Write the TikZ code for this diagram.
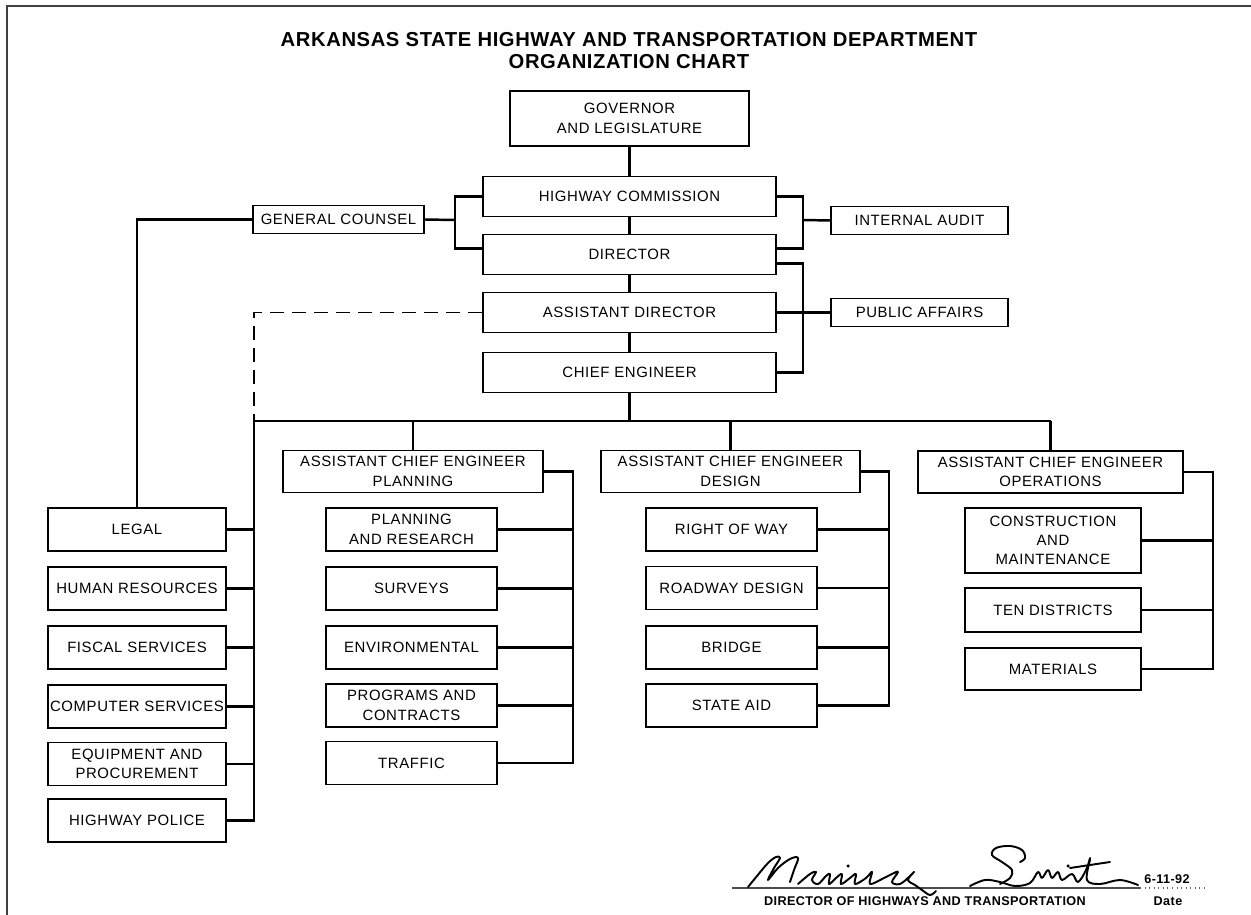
\documentclass[tikz,border=0pt]{standalone}
\usepackage{fontspec}
\setmainfont{Liberation Sans}
\newfontfamily\chartfont{Liberation Sans}[LetterSpace=4]
\newfontfamily\titlefont{Liberation Sans}[LetterSpace=3]
\usetikzlibrary{calc}

\tikzset{
  box/.style={draw, line width=0.8pt, align=center, inner sep=1pt,
    font={\chartfont\fontsize{8.5}{11}\selectfont}},
  mainbox/.style={box, minimum width=5.86cm, minimum height=0.8cm},
  staffbox/.style={box, minimum width=3.54cm, minimum height=0.56cm},
  acebox/.style={box, minimum width=5.2cm, minimum height=0.84cm},
  sidebox/.style={box, minimum width=3.56cm, minimum height=0.86cm},
  subbox/.style={box, minimum width=3.42cm, minimum height=0.86cm},
  link/.style={line width=1.4pt, line join=miter},
  dotlink/.style={line width=0.7pt, dash pattern=on 0.28cm off 0.16cm},
  sig/.style={line width=1.1pt, line cap=round, line join=round},
  signfont/.style={font={\titlefont\bfseries\fontsize{7.2}{8}\selectfont}},
}

\begin{document}
\begin{tikzpicture}[x=0.02cm, y=-0.02cm]
  % page frame
  \useasboundingbox (0,0) rectangle (1251,915);
  \draw[line width=1.3pt, black!75] (7,915) -- (7,6) -- (1251,6);

  % --- title ---
  \node[font={\titlefont\bfseries\fontsize{11.5}{12.5}\selectfont}, align=center] (title) at (629,51)
    {ARKANSAS STATE HIGHWAY AND TRANSPORTATION DEPARTMENT\\ORGANIZATION CHART};

  % --- top of the chain ---
  \node[box, minimum width=4.78cm, minimum height=1.1cm] (gov) at (629.5,118.5) {GOVERNOR\\AND LEGISLATURE};
  \node[mainbox] (hc)  at (629.5,196.5) {HIGHWAY COMMISSION};
  \node[mainbox] (dir) at (629.5,254.5) {DIRECTOR};
  \node[mainbox] (ad)  at (629.5,312.5) {ASSISTANT DIRECTOR};
  \node[mainbox] (ce)  at (629.5,372.5) {CHIEF ENGINEER};

  \node[staffbox, minimum width=3.42cm] (gc) at (338.5,219.5) {GENERAL COUNSEL};
  \node[staffbox] (ia) at (919.5,220.5) {INTERNAL AUDIT};
  \node[staffbox] (pa) at (919.5,312.5) {PUBLIC AFFAIRS};

  % --- assistant chief engineers ---
  \node[acebox] (acepl) at (413,471.5) {ASSISTANT CHIEF ENGINEER\\PLANNING};
  \node[acebox, minimum width=5.18cm] (aced) at (730.5,471.5) {ASSISTANT CHIEF ENGINEER\\DESIGN};
  \node[acebox, minimum width=5.3cm] (aceo) at (1050.5,472) {ASSISTANT CHIEF ENGINEER\\OPERATIONS};

  % --- staff divisions ---
  \node[sidebox] (legal)    at (137,529.5) {LEGAL};
  \node[sidebox] (hr)       at (137,588.5) {HUMAN RESOURCES};
  \node[sidebox] (fiscal)   at (137,647.5) {FISCAL SERVICES};
  \node[sidebox] (computer) at (137,706.5) {COMPUTER SERVICES};
  \node[sidebox] (equip)    at (137,764)   {EQUIPMENT AND\\PROCUREMENT};
  \node[sidebox] (police)   at (137,820.5) {HIGHWAY POLICE};

  % --- planning ---
  \node[subbox] (plres)    at (411.5,529.5) {PLANNING\\AND RESEARCH};
  \node[subbox] (surveys)  at (411.5,588.5) {SURVEYS};
  \node[subbox] (envir)    at (411.5,647.5) {ENVIRONMENTAL};
  \node[subbox] (programs) at (411.5,705.5) {PROGRAMS AND\\CONTRACTS};
  \node[subbox] (traffic)  at (411.5,763)   {TRAFFIC};

  % --- design ---
  \node[subbox] (row)     at (731.5,529.5) {RIGHT OF WAY};
  \node[subbox] (roadway) at (731.5,588)   {ROADWAY DESIGN};
  \node[subbox] (bridge)  at (731.5,647.5) {BRIDGE};
  \node[subbox] (aid)     at (731.5,705.5) {STATE AID};

  % --- operations ---
  \node[subbox, minimum width=3.52cm, minimum height=1.3cm] (constr) at (1053,540.5) {CONSTRUCTION\\AND\\MAINTENANCE};
  \node[subbox, minimum width=3.52cm, minimum height=0.88cm] (ten) at (1053,610) {TEN DISTRICTS};
  \node[subbox, minimum width=3.52cm, minimum height=0.84cm] (mat) at (1053,669) {MATERIALS};

  % junction points
  \coordinate (lb)   at (455,220);
  \coordinate (rb)   at (803,220);
  \coordinate (rb2)  at (803,313);
  \coordinate (busL) at (254,421);
  \coordinate (busR) at (aceo.north |- busL);
  \coordinate (plbar)  at (573,471.5);
  \coordinate (desbar) at (889,471.5);
  \coordinate (opsbar) at (1213,472);

  % main chain
  \draw[link] (gov.south) -- (hc.north);
  \draw[link] (hc.south) -- (dir.north);
  \draw[link] (dir.south) -- (ad.north);
  \draw[link] (ad.south) -- (ce.north);
  \draw[link] (ce.south) -- (ce.south |- busL);

  % staff offices
  \draw[link] (hc.west) -| (lb) |- ([yshift=0.12cm]dir.west);
  \draw[link] (gc.east) -- (lb);
  \draw[link] (hc.east) -| (rb) |- ([yshift=0.12cm]dir.east);
  \draw[link] (rb) -- (ia.west);
  \draw[link] ([yshift=-0.18cm]dir.east) -| (rb2) |- (ce.east);
  \draw[link] (ad.east) -- (pa.west);
  \draw[link] (gc.west) -| (legal.north);
  \draw[dotlink] (ad.west) -| (busL);

  % bus to the assistant chief engineers
  \draw[link] (busL) -- (busR);
  \draw[link] (acepl.north) -- (acepl.north |- busL);
  \draw[link] (aced.north) -- (aced.north |- busL);
  \draw[link] (aceo.north) -- (busR);

  % staff column
  \draw[link] (busL) |- (police.east);
  \foreach \n in {legal,hr,fiscal,computer,equip}
    \draw[link] (\n.east) -- (\n.east -| busL);

  % planning branch
  \draw[link] (acepl.east) -- (plbar) |- (traffic.east);
  \foreach \n in {plres,surveys,envir,programs}
    \draw[link] (\n.east) -- (\n.east -| plbar);

  % design branch
  \draw[link] (aced.east) -- (desbar) |- (aid.east);
  \foreach \n in {row,roadway,bridge}
    \draw[link] (\n.east) -- (\n.east -| desbar);

  % operations branch
  \draw[link] (aceo.east) -- (opsbar) |- (mat.east);
  \foreach \n in {constr,ten}
    \draw[link] (\n.east) -- (\n.east -| opsbar);

  % --- signature block ---
  \draw[line width=0.6pt, black!70] (732,888) -- (1140,888);
  \draw[line width=0.6pt, black!60, dotted] (1140,888) -- (1206,888);
  \node[signfont] (signer) at (925,901) {DIRECTOR OF HIGHWAYS AND TRANSPORTATION};
  \node[signfont] (datelbl) at (1168,901) {Date};
  \node[signfont] (dateval) at (1167,879) {6-11-92};

  % handwritten name
  \draw[sig] plot[smooth, tension=0.6] coordinates {(748,887) (757,876) (768,863) (776,857) (780,858) (774,868) (768,880) (778,868) (790,859) (798,858) (794,870) (790,882)};
  \draw[sig] plot[smooth, tension=0.6] coordinates {(798,884) (810,874) (816,872) (812,880) (818,884) (826,876) (830,874) (829,884) (836,878) (842,874) (841,884) (850,878) (856,874) (855,884) (866,878) (872,872) (870,884) (884,878) (892,874) (898,872) (892,882) (900,884) (910,876) (914,872) (908,880) (915,885) (922,890) (930,895) (936,891)};
  \fill (848,866) circle (0.035cm);
  \draw[sig] plot[smooth, tension=0.6] coordinates {(1000,884) (1010,878) (1012,870) (1002,862) (992,855) (996,848) (1010,846) (1022,850) (1025,858) (1020,862)};
  \draw[sig] plot[smooth, tension=0.6] coordinates {(970,886) (985,880) (1000,882) (1015,886) (1030,883) (1038,872) (1042,878) (1048,870) (1052,878) (1058,872) (1062,880) (1072,874) (1078,882) (1086,870) (1090,858)};
  \draw[sig] plot[smooth, tension=0.6] coordinates {(1090,860) (1087,880) (1100,884) (1120,880) (1138,885)};
  \draw[sig] (1070,868) -- (1110,862);
  \fill (1068,866) circle (0.035cm);
\end{tikzpicture}
\end{document}
